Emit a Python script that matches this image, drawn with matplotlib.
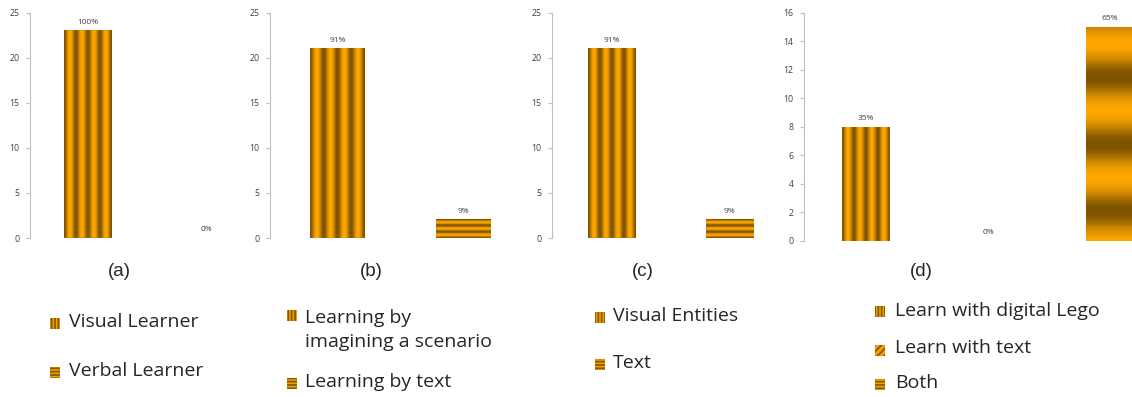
import matplotlib

matplotlib.use("Agg")
import matplotlib.pyplot as plt
import numpy as np
from matplotlib.colors import LinearSegmentedColormap
from matplotlib.patches import Rectangle

# chart data
a_labels = ["Visual Learner", "Verbal Learner"]
a_values = [23, 0]
a_pct = ["100%", "0%"]

b_labels = ["Learning by\nimagining a scenario", "Learning by text"]
b_values = [21, 2]
b_pct = ["91%", "9%"]

c_labels = ["Visual Entities", "Text"]
c_values = [21, 2]
c_pct = ["91%", "9%"]

d_labels = ["Learn with digital Lego", "Learn with text", "Both"]
d_values = [8, 0, 15]
d_pct = ["35%", "0%", "65%"]

panel_names = ["(a)", "(b)", "(c)", "(d)"]

W, H = 1132, 397
DARK = "#7d5200"
BRIGHT = "#ffa800"
cmap = LinearSegmentedColormap.from_list("gold", [DARK, "#c98400", BRIGHT])

plt.rcParams["font.family"] = ["Open Sans", "DejaVu Sans"]
plt.rcParams["hatch.linewidth"] = 1.3


def px_axes(fig, left, right, bottom, top):
    """Axes placed in pixel coords (y measured from the top)."""
    return fig.add_axes([left / W, 1 - bottom / H, (right - left) / W, (bottom - top) / H])


def texture(kind, n=300):
    t = np.linspace(0, 1, n)
    if kind == "vstripe":
        return (0.5 - 0.5 * np.cos(2 * np.pi * 4 * t))[None, :]
    if kind == "hstripe":
        return (0.5 - 0.5 * np.cos(2 * np.pi * 3 * t))[:, None]
    return None


def draw_panel(ax, values, pct, kinds, width, xlim, ymax, step):
    x = np.arange(len(values))
    bars = ax.bar(x, values, width, color="none", lw=0)
    for bar, kind, lab in zip(bars, kinds, pct):
        x0, w, h = bar.get_x(), bar.get_width(), bar.get_height()
        if h > 0:
            if kind == "bands":
                yy = np.linspace(0, h, 400)
                img = (0.5 + 0.5 * np.cos(2 * np.pi * (yy - 4.45) / 4.7))[:, None]
            else:
                img = texture(kind)
            ax.imshow(img, extent=(x0, x0 + w, 0, h), origin="lower", cmap=cmap,
                      vmin=0, vmax=1, aspect="auto", interpolation="bilinear")
        ax.annotate(lab, (x0 + w / 2, h), xytext=(0, 6), textcoords="offset points",
                    ha="center", va="center", fontsize=6, color="#404040")
    ax.set_xlim(*xlim)
    ax.set_ylim(0, ymax)
    ax.set_yticks(np.arange(0, ymax + 1, step))
    ax.set_xticks([])
    for s in ["top", "right", "bottom"]:
        ax.spines[s].set_visible(False)
    ax.spines["left"].set_color("#bfbfbf")
    ax.spines["left"].set_linewidth(0.8)
    ax.tick_params(axis="y", length=3, width=0.8, color="#bfbfbf", labelsize=6.3,
                   labelcolor="#404040", pad=4.5)
    ax.patch.set_alpha(0)


fig = plt.figure(figsize=(W / 100, H / 100), dpi=100)

ax_a = px_axes(fig, 30, 266, 238, 12.7)
draw_panel(ax_a, a_values, a_pct, ["vstripe", "hstripe"], 0.40, (-0.49, 1.5), 25, 5)
ax_b = px_axes(fig, 270, 526.5, 238, 12.7)
draw_panel(ax_b, b_values, b_pct, ["vstripe", "hstripe"], 0.43, (-0.536, 1.5), 25, 5)
ax_c = px_axes(fig, 552, 788.5, 238, 12.7)
draw_panel(ax_c, c_values, c_pct, ["vstripe", "hstripe"], 0.40, (-0.504, 1.5), 25, 5)
ax_d = px_axes(fig, 804, 1171, 240.7, 12.7)
draw_panel(ax_d, d_values, d_pct, ["vstripe", "dstripe", "bands"], 0.39, (-0.508, 2.5), 16, 2)

# panel captions
for name, xc in zip(panel_names, [119, 371, 643, 921]):
    fig.text(xc / W, 1 - 272 / H, name, ha="center", va="center", fontsize=13.5,
             family="Liberation Sans", color="#262626")

hatches = {"vstripe": "|||||", "hstripe": "-----", "dstripe": "/////"}


def legend_entry(xm, ym, kind, text_x, text_y, label):
    fig.add_artist(Rectangle((xm / W, 1 - (ym + 5.5) / H), 10 / W, 11 / H,
                             transform=fig.transFigure, facecolor="#f0a000",
                             edgecolor="#8a5a00", lw=0, hatch=hatches[kind]))
    fig.text(text_x / W, 1 - text_y / H, label, ha="left", va="center",
             fontsize=14, color="#262626", linespacing=1.45)


legend_entry(50, 323, "vstripe", 69, 322, a_labels[0])
legend_entry(50, 372, "hstripe", 69, 371, a_labels[1])
legend_entry(287, 315, "vstripe", 305, 330, b_labels[0])
legend_entry(287, 383, "hstripe", 305, 382, b_labels[1])
legend_entry(595, 317, "vstripe", 613, 316, c_labels[0])
legend_entry(595, 364, "hstripe", 613, 363, c_labels[1])
legend_entry(875, 311, "vstripe", 895, 311, d_labels[0])
legend_entry(875, 350, "dstripe", 895, 348, d_labels[1])
legend_entry(875, 384, "hstripe", 895, 383, d_labels[2])

fig.savefig("out.png", dpi=100)
